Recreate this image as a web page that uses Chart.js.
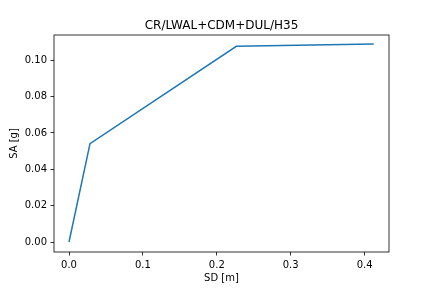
<!DOCTYPE html>
<html>
<head>
<meta charset="utf-8">
<script src="https://cdn.jsdelivr.net/npm/chart.js@4/dist/chart.umd.min.js"></script>
<style>
  html, body { margin: 0; padding: 0; background: #fff; }
  #wrap { width: 432px; height: 288px; position: relative; }
</style>
</head>
<body>
<div id="wrap"><canvas id="c" width="432" height="288"></canvas></div>
<script>
const sdValues = [0.0, 0.0284, 0.2264, 0.4123];
const saValues = [0.0, 0.0541, 0.1077, 0.1090];
const xTicks = [0.0, 0.1, 0.2, 0.3, 0.4];
const yTicks = [0.00, 0.02, 0.04, 0.06, 0.08, 0.10];
const titleText = 'CR/LWAL+CDM+DUL/H35';
const xLabel = 'SD [m]';
const yLabel = 'SA [g]';

const FONT = 'DejaVu Sans';

const frame = {
  id: 'frame',
  afterDatasetsDraw(chart) {
    const a = chart.chartArea, ctx = chart.ctx;
    ctx.save();
    ctx.strokeStyle = '#000';
    ctx.lineWidth = 0.8;
    ctx.strokeRect(a.left, a.top, a.right - a.left, a.bottom - a.top);
    ctx.restore();
  }
};

const axesTitle = {
  id: 'axesTitle',
  afterDraw(chart, args, opts) {
    const a = chart.chartArea, ctx = chart.ctx;
    ctx.save();
    ctx.fillStyle = '#000';
    ctx.font = '12px "' + FONT + '"';
    ctx.textAlign = 'center';
    ctx.textBaseline = 'alphabetic';
    ctx.fillText(opts.text, (a.left + a.right) / 2, a.top - 6);
    ctx.restore();
  }
};

new Chart(document.getElementById('c'), {
  type: 'scatter',
  data: {
    datasets: [{
      data: sdValues.map((x, i) => ({ x: x, y: saValues[i] })),
      showLine: true,
      borderColor: '#1f77b4',
      backgroundColor: '#1f77b4',
      borderWidth: 1.5,
      pointRadius: 0,
      tension: 0
    }]
  },
  options: {
    responsive: false,
    animation: false,
    devicePixelRatio: 1,
    layout: { padding: { left: 0, right: 43, top: 35, bottom: 0 } },
    plugins: {
      legend: { display: false },
      tooltip: { enabled: false },
      title: { display: false },
      axesTitle: { text: titleText }
    },
    scales: {
      x: {
        type: 'linear',
        min: -0.0203,
        max: 0.433,
        afterFit(scale) { scale.height = 36; },
        afterBuildTicks(scale) { scale.ticks = xTicks.map(v => ({ value: v })); },
        grid: { drawOnChartArea: false, drawTicks: true, tickLength: 3.5, color: '#000', tickWidth: 0.8 },
        border: { display: false },
        ticks: {
          color: '#000',
          font: { family: FONT, size: 10 },
          padding: 3.5,
          maxRotation: 0,
          autoSkip: false,
          callback: v => Number(v).toFixed(1)
        },
        title: {
          display: true,
          text: xLabel,
          color: '#000',
          font: { family: FONT, size: 10 },
          padding: { top: 4, bottom: 4 }
        }
      },
      y: {
        type: 'linear',
        min: -0.0055,
        max: 0.1139,
        afterFit(scale) { scale.width = 54; },
        afterBuildTicks(scale) { scale.ticks = yTicks.map(v => ({ value: v })); },
        grid: { drawOnChartArea: false, drawTicks: true, tickLength: 3.5, color: '#000', tickWidth: 0.8 },
        border: { display: false },
        ticks: {
          color: '#000',
          font: { family: FONT, size: 10 },
          padding: 3.5,
          autoSkip: false,
          callback: v => Number(v).toFixed(2)
        },
        title: {
          display: true,
          text: yLabel,
          color: '#000',
          font: { family: FONT, size: 10 },
          padding: { top: 8.5, bottom: 4 }
        }
      }
    }
  },
  plugins: [frame, axesTitle]
});
</script>
</body>
</html>
